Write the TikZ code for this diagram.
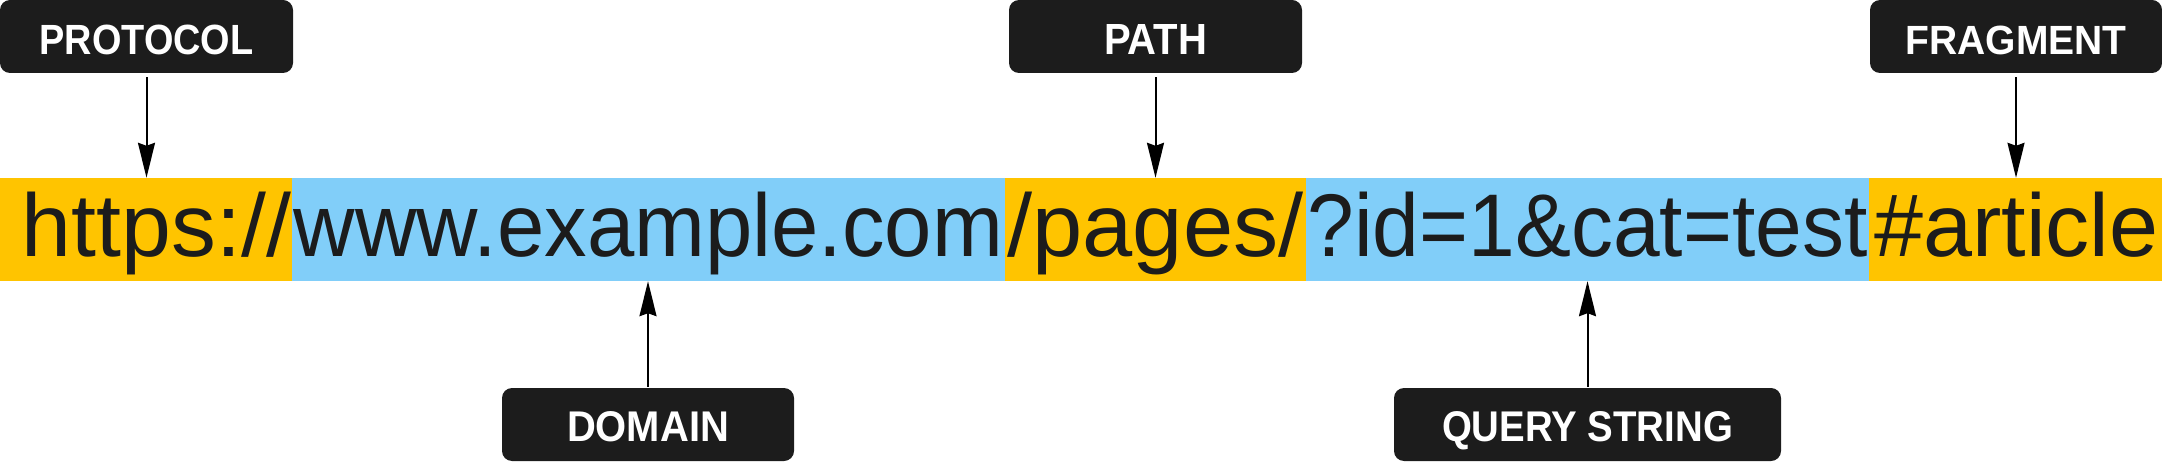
\documentclass[tikz,border=0pt]{standalone}
\usepackage{fontspec}
\setmainfont{Liberation Sans}
\usetikzlibrary{arrows.meta}
\definecolor{segorange}{HTML}{FFC400}
\definecolor{segblue}{HTML}{81CEF9}
\definecolor{inkc}{HTML}{1C1C1C}
\definecolor{labelbg}{HTML}{1C1C1C}
\tikzset{
  seg/.style={rectangle, inner sep=0pt, minimum height=103pt, text height=55pt, text depth=0pt,
    text=inkc, font=\fontsize{89}{100}\selectfont},
  lbl/.style={rectangle, rounded corners=10pt, fill=labelbg, inner sep=0pt, minimum height=73pt,
    text=white, text depth=0pt, font=\bfseries\fontsize{40}{48}\selectfont},
  toplbl/.style={lbl, text height=37pt},
  botlbl/.style={lbl, text height=34pt},
  arr/.style={-{Stealth[length=35pt,width=17pt,inset=3pt]}, line width=2pt, draw=black}
}
\begin{document}
\begin{tikzpicture}[x=1pt,y=-1pt]
\useasboundingbox (0,0) rectangle (2162,462);
% URL segments
\node[seg, fill=segorange, minimum width=292pt] (s1) at (146,229.5)
  {\hspace{21pt}\resizebox{269pt}{\height}{https://}\hspace{2pt}};
\node[seg, fill=segblue, minimum width=713pt] (s2) at (648.5,229.5)
  {\resizebox{709pt}{\height}{www.example.com}};
\node[seg, fill=segorange, minimum width=301pt] (s3) at (1155.5,229.5)
  {\resizebox{296pt}{\height}{/pages/}};
\node[seg, fill=segblue, minimum width=563pt] (s4) at (1587.5,229.5)
  {\resizebox{560pt}{\height}{?id=1\&cat=test}};
\node[seg, fill=segorange, minimum width=293pt] (s5) at (2015.5,229.5)
  {\hspace{2pt}\resizebox{284pt}{\height}{\#article}\hspace{7pt}};
% labels
\node[toplbl, minimum width=293pt] (lprotocol) at (146.5,36.5) {\resizebox{214pt}{29.5pt}{PROTOCOL}};
\node[toplbl, minimum width=293pt] (lpath) at (1155.5,36.5) {\resizebox{103pt}{30pt}{PATH}};
\node[toplbl, minimum width=292pt] (lfragment) at (2016,36.5) {\resizebox{221pt}{28.5pt}{FRAGMENT}};
\node[botlbl, minimum width=292pt] (ldomain) at (648,424.5) {\resizebox{162pt}{30pt}{DOMAIN}};
\node[botlbl, minimum width=387pt] (lquery) at (1587.5,424.5) {\resizebox{291pt}{30pt}{QUERY STRING}};
% arrows
\draw[arr] ([yshift=-4pt]lprotocol.south) -- (lprotocol.south |- s1.north);
\draw[arr] ([yshift=-4pt]lpath.south) -- (lpath.south |- s3.north);
\draw[arr] ([yshift=-4pt]lfragment.south) -- (lfragment.south |- s5.north);
\draw[arr] ([yshift=1pt]ldomain.north) -- (ldomain.north |- s2.south);
\draw[arr] ([yshift=1pt]lquery.north) -- (lquery.north |- s4.south);
\end{tikzpicture}
\end{document}
